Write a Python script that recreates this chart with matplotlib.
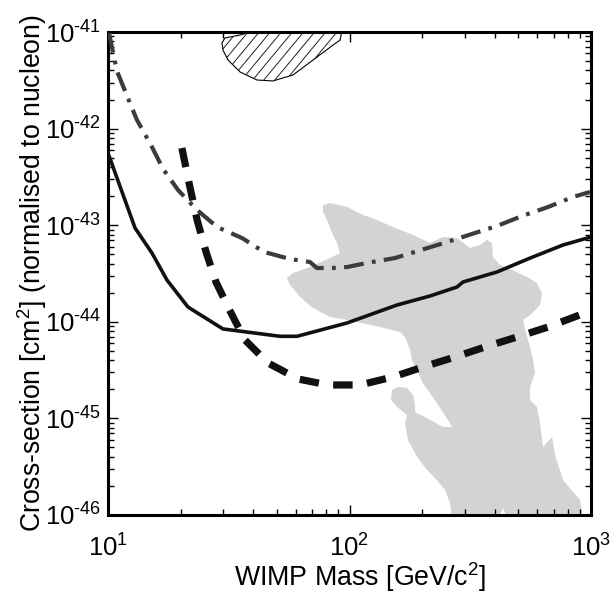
import numpy as np
import matplotlib
matplotlib.use('Agg')
import matplotlib.pyplot as plt
from matplotlib.patches import Polygon
from matplotlib.collections import LineCollection
from matplotlib.ticker import FuncFormatter

plt.rcParams['font.family'] = ['Liberation Sans', 'DejaVu Sans']
plt.rcParams['mathtext.fontset'] = 'custom'
plt.rcParams['mathtext.rm'] = 'Liberation Sans'
plt.rcParams['mathtext.it'] = 'Liberation Sans:italic'
plt.rcParams['mathtext.bf'] = 'Liberation Sans:bold'

# axis decades
x_ticks = [1e1, 1e2, 1e3]
y_ticks = [1e-46, 1e-45, 1e-44, 1e-43, 1e-42, 1e-41]

# log10 of WIMP mass [GeV] and log10 of cross-section [cm^2]

# solid limit curve
solid_lm = [1.000, 1.112, 1.182, 1.244, 1.331, 1.476, 1.712, 1.783, 1.990, 2.197,
            2.333, 2.445, 2.470, 2.611, 2.748, 2.884, 3.000]
solid_ls = [-42.253, -43.029, -43.288, -43.567, -43.847, -44.074, -44.150, -44.150, -44.012, -43.826,
            -43.733, -43.640, -43.588, -43.484, -43.340, -43.205, -43.122]

# dash-dot limit curve
dashdot_lm = [1.004, 1.037, 1.079, 1.120, 1.178, 1.228, 1.290, 1.369, 1.452, 1.555,
              1.646, 1.754, 1.836, 1.865, 1.932, 1.990, 2.072, 2.188, 2.296, 2.404,
              2.507, 2.611, 2.714, 2.822, 2.925, 2.996]
dashdot_ls = [-41.010, -41.404, -41.663, -41.911, -42.170, -42.418, -42.636, -42.843, -43.019, -43.133,
              -43.277, -43.350, -43.381, -43.443, -43.443, -43.433, -43.391, -43.340, -43.257, -43.174,
              -43.091, -43.008, -42.905, -42.812, -42.708, -42.656]

# thick dashed limit curve
dashed_lm = [1.306, 1.340, 1.369, 1.406, 1.447, 1.501, 1.567, 1.663, 1.787, 1.911,
             2.043, 2.180, 2.304, 2.437, 2.561, 2.694, 2.822, 2.942, 2.996]
dashed_ls = [-42.201, -42.615, -42.946, -43.277, -43.588, -43.867, -44.188, -44.427, -44.592, -44.654,
             -44.654, -44.571, -44.468, -44.364, -44.261, -44.157, -44.054, -43.940, -43.888]

# hatched (claimed signal) region
hatch_lm = [1.472, 1.484, 1.547, 1.617, 1.969, 1.961, 1.932, 1.849, 1.766, 1.683,
            1.617, 1.547, 1.497, 1.476]
hatch_ls = [-41.114, -41.062, -41.031, -40.980, -40.980, -41.083, -41.135, -41.290, -41.445, -41.507,
            -41.497, -41.414, -41.290, -41.186]

# grey (theory) region
grey_lm = [1.890, 1.919, 1.990, 2.056, 2.114, 2.180, 2.263, 2.333, 2.387, 2.445,
           2.499, 2.540, 2.569, 2.590, 2.594, 2.623, 2.673, 2.735, 2.776, 2.797,
           2.789, 2.748, 2.719, 2.727, 2.748, 2.760, 2.768, 2.748, 2.748, 2.776,
           2.789, 2.801, 2.839, 2.851, 2.884, 2.926, 2.955, 2.967, 2.656, 2.636,
           2.615, 2.425, 2.416, 2.396, 2.362, 2.321, 2.280, 2.242, 2.230, 2.238,
           2.197, 2.172, 2.176, 2.201, 2.238, 2.263, 2.271, 2.271, 2.321, 2.387,
           2.425, 2.408, 2.362, 2.304, 2.259, 2.251, 2.230, 2.209, 2.126, 1.990,
           1.919, 1.849, 1.795, 1.754, 1.741, 1.766, 1.836, 1.919, 1.961, 1.948,
           1.928, 1.907, 1.890]
grey_ls = [-42.791, -42.770, -42.812, -42.894, -42.946, -43.019, -43.101, -43.184, -43.122, -43.133,
           -43.236, -43.205, -43.153, -43.184, -43.329, -43.412, -43.464, -43.536, -43.598, -43.702,
           -43.826, -43.930, -43.981, -44.085, -44.261, -44.395, -44.530, -44.675, -44.810, -44.882,
           -45.048, -45.296, -45.193, -45.379, -45.638, -45.762, -45.845, -46.050, -46.050, -45.928,
           -46.050, -46.050, -45.876, -45.741, -45.638, -45.534, -45.400, -45.224, -45.048, -44.965,
           -44.882, -44.810, -44.706, -44.675, -44.685, -44.758, -44.841, -44.934, -44.996, -45.089,
           -45.089, -45.017, -44.841, -44.634, -44.395, -44.292, -44.157, -44.106, -44.054, -43.981,
           -43.950, -43.857, -43.743, -43.619, -43.547, -43.495, -43.433, -43.340, -43.288, -43.184,
           -43.081, -42.946, -42.863]

fig = plt.figure(figsize=(6.1, 5.94), dpi=100)
ax = fig.add_axes([108 / 610, 1 - 515 / 594, 483 / 610, 483 / 594])
ax.set_xscale('log')
ax.set_yscale('log')

# grey region
grey = Polygon(np.column_stack([10 ** np.array(grey_lm), 10 ** np.array(grey_ls)]),
               closed=True, facecolor='#d1d3d4', edgecolor='none', zorder=1)
ax.add_patch(grey)

# hatched region: outline plus hand-made diagonal hatching clipped to it
hatch_poly = Polygon(np.column_stack([10 ** np.array(hatch_lm), 10 ** np.array(hatch_ls)]),
                     closed=True, facecolor='white', edgecolor='black', linewidth=0.8, zorder=2)
ax.add_patch(hatch_poly)
segs = [[(t, 0.0), (t + 0.83, 1.0)] for t in np.arange(-1.0, 1.0, 0.023)]
hl = LineCollection(segs, colors='#222222', linewidths=0.7, transform=ax.transAxes, zorder=2)
hl.set_clip_path(hatch_poly)
ax.add_collection(hl)

# curves
ax.plot(10 ** np.array(solid_lm), 10 ** np.array(solid_ls), color='#111111', lw=2.6,
        solid_joinstyle='miter', zorder=4)
ax.plot(10 ** np.array(dashdot_lm), 10 ** np.array(dashdot_ls), color='#3c3c3c', lw=3.0,
        dashes=(4.8, 2.0, 0.9, 2.0), dash_capstyle='butt', zorder=3)
ax.plot(10 ** np.array(dashed_lm), 10 ** np.array(dashed_ls), color='#111111', lw=5.2,
        dashes=(2.7, 2.0), dash_capstyle='butt', zorder=4)


def pow_label(v, pos):
    e = int(round(np.log10(v)))
    if e < 0:
        return r'$\mathdefault{10^{\text{-}%d}}$' % (-e)
    return r'$\mathdefault{10^{%d}}$' % e


ax.set_xticks(x_ticks)
ax.set_yticks(y_ticks)
ax.xaxis.set_major_formatter(FuncFormatter(pow_label))
ax.yaxis.set_major_formatter(FuncFormatter(pow_label))
ax.set_xlim(x_ticks[0], x_ticks[-1])
ax.set_ylim(y_ticks[0], y_ticks[-1])

# axes styling
for s in ax.spines.values():
    s.set_linewidth(2.2)
ax.tick_params(which='both', direction='in', top=True, right=True, width=1.0, labelsize=18.5)
ax.tick_params(which='major', length=7.5)
ax.tick_params(which='minor', length=4.5)
ax.tick_params(axis='x', which='both', pad=14)
ax.tick_params(axis='y', which='both', pad=5)

ax.set_xlabel('WIMP Mass [GeV/c$^{2}$]', fontsize=19.3)
ax.xaxis.set_label_coords(0.522, -0.094)
ax.set_ylabel('Cross-section [cm$^{2}$] (normalised to nucleon)', fontsize=19.2, labelpad=-3)

fig.savefig('out.png', dpi=100)
